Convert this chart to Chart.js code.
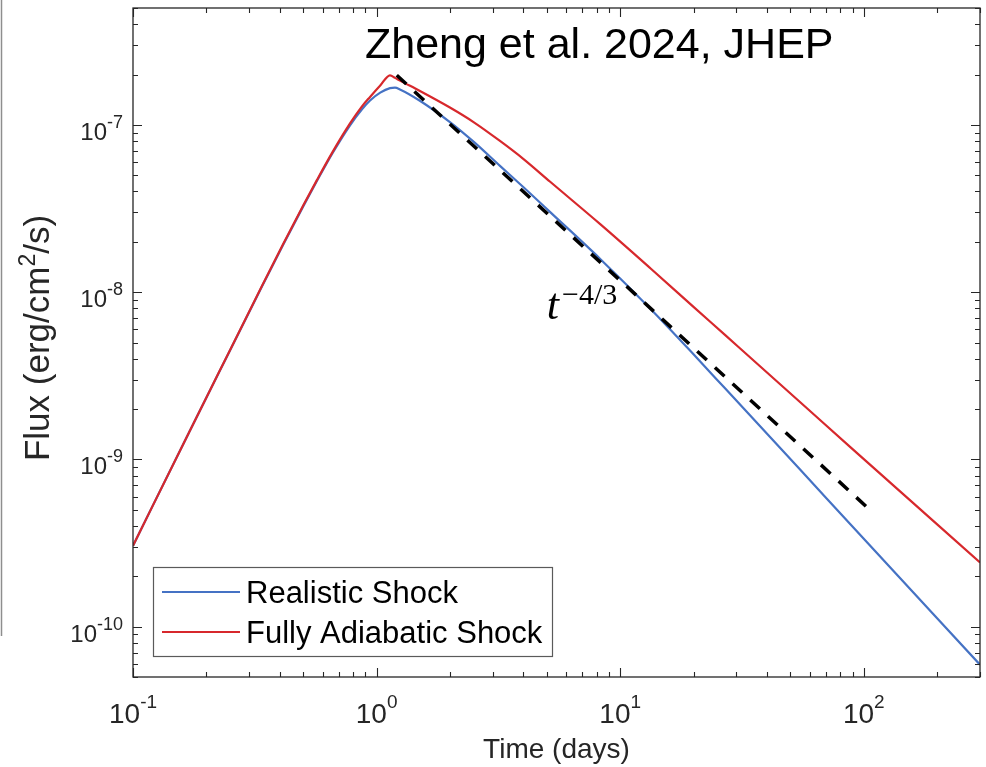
<!DOCTYPE html>
<html>
<head>
<meta charset="utf-8">
<script src="https://cdn.jsdelivr.net/npm/chart.js@4.4.1/dist/chart.umd.min.js"></script>
<style>
html,body{margin:0;padding:0;background:#ffffff;}
#wrap{width:986px;height:767px;position:relative;}
</style>
</head>
<body>
<div id="wrap"><canvas id="c" width="986" height="767"></canvas></div>
<script>
// ---- data ----
const timeDays = [0.1, 0.171, 0.224, 0.316, 0.414, 0.501, 0.568, 0.661, 0.778, 0.871, 0.94, 1.035, 1.135, 1.19, 1.247, 1.5, 2.0, 2.5, 3.21, 4.0, 5.16, 8.28, 13.3, 20, 27, 55, 88.3, 300];
const realisticShock = [3.05e-10, 1.48e-9, 3.25e-9, 8.85e-9, 1.93e-8, 3.28e-8, 4.60e-8, 6.82e-8, 9.95e-8, 1.24e-7, 1.40e-7, 1.56e-7, 1.66e-7, 1.67e-7, 1.63e-7, 1.40e-7, 1.04e-7, 7.94e-8, 5.69e-8, 4.25e-8, 3.01e-8, 1.58e-8, 7.96e-9, 4.25e-9, 2.65e-9, 8.63e-10, 4.08e-10, 5.92e-11];
const adiabaticShock = [3.05e-10, 1.48e-9, 3.26e-9, 8.91e-9, 1.95e-8, 3.32e-8, 4.66e-8, 6.92e-8, 1.02e-7, 1.29e-7, 1.47e-7, 1.72e-7, 1.98e-7, 1.91e-7, 1.84e-7, 1.60e-7, 1.27e-7, 1.04e-7, 8.02e-8, 6.27e-8, 4.57e-8, 2.55e-8, 1.39e-8, 8.17e-9, 5.53e-9, 2.19e-9, 1.18e-9, 2.42e-10];
const slopeTimes = [1.21, 107];
const slopeFlux = [1.98e-7, 4.93e-10];
const seriesLabels = ['Realistic Shock', 'Fully Adiabatic Shock'];
const xTickExponents = [-1, 0, 1, 2];
const yTickExponents = [-10, -9, -8, -7];
const annotationTime = 5.0;
const annotationFlux = 6.95e-9;
const chartTitle = 'Zheng et al. 2024, JHEP';
const xTitle = 'Time (days)';
const yTitleParts = ['Flux (erg/cm', '2', '/s)'];

const BLUE = '#4572c4';
const RED = '#d7282c';
const SANS = '"Liberation Sans", Arial, Helvetica, sans-serif';
const SERIF = '"Liberation Serif", "Times New Roman", serif';

function toPoints(xs, ys) { return xs.map((x, i) => ({ x: x, y: ys[i] })); }

function drawPow(ctx, base, exp, x, y, align, baseSize, supSize, rise) {
  ctx.font = baseSize + 'px ' + SANS;
  const bw = ctx.measureText(base).width;
  ctx.font = supSize + 'px ' + SANS;
  const sw = ctx.measureText(exp).width;
  const total = bw + sw;
  let left = x;
  if (align === 'right') left = x - total;
  else if (align === 'center') left = x - total / 2;
  ctx.textAlign = 'left';
  ctx.textBaseline = 'alphabetic';
  ctx.font = baseSize + 'px ' + SANS;
  ctx.fillText(base, left, y);
  ctx.font = supSize + 'px ' + SANS;
  ctx.fillText(exp, left + bw, y - rise);
}

const decorPlugin = {
  id: 'decor',
  afterDraw(chart) {
    const ctx = chart.ctx, ca = chart.chartArea;
    const xs = chart.scales.x, ys = chart.scales.y;
    ctx.save();

    // stray vertical line at the left edge of the screenshot
    ctx.strokeStyle = '#8e8e8e';
    ctx.lineWidth = 1.5;
    ctx.beginPath(); ctx.moveTo(1.5, 0); ctx.lineTo(1.5, 636); ctx.stroke();

    // axes box
    ctx.strokeStyle = '#262626';
    ctx.lineWidth = 1.3;
    ctx.strokeRect(ca.left, ca.top, ca.right - ca.left, ca.bottom - ca.top);

    // inward ticks on all four sides
    ctx.lineWidth = 1.1;
    ctx.beginPath();
    for (let d = -2; d <= 3; d++) {
      for (let m = 1; m <= 9; m++) {
        const v = m * Math.pow(10, d);
        if (v < xs.min * 0.999 || v > xs.max * 1.001) continue;
        const px = Math.round(xs.getPixelForValue(v)) + 0.5;
        const len = m === 1 ? 9 : 5;
        ctx.moveTo(px, ca.bottom); ctx.lineTo(px, ca.bottom - len);
        ctx.moveTo(px, ca.top); ctx.lineTo(px, ca.top + len);
      }
    }
    for (let d = -12; d <= -6; d++) {
      for (let m = 1; m <= 9; m++) {
        const v = m * Math.pow(10, d);
        if (v < ys.min * 0.999 || v > ys.max * 1.001) continue;
        const py = Math.round(ys.getPixelForValue(v)) + 0.5;
        const len = m === 1 ? 9 : 5;
        ctx.moveTo(ca.left, py); ctx.lineTo(ca.left + len, py);
        ctx.moveTo(ca.right, py); ctx.lineTo(ca.right - len, py);
      }
    }
    ctx.stroke();

    // tick labels
    ctx.fillStyle = '#262626';
    xTickExponents.forEach(e => {
      const px = xs.getPixelForValue(Math.pow(10, e));
      drawPow(ctx, '10', String(e), px, ca.bottom + 46, 'center', 28, 19, 15);
    });
    yTickExponents.forEach(e => {
      const py = ys.getPixelForValue(Math.pow(10, e));
      drawPow(ctx, '10', String(e), ca.left - 10, py + 15, 'right', 24, 18, 12);
    });

    // axis titles
    ctx.font = '28px ' + SANS;
    ctx.textAlign = 'center';
    ctx.textBaseline = 'alphabetic';
    ctx.fillText(xTitle, (ca.left + ca.right) / 2, 758);

    ctx.save();
    ctx.translate(49, 338);
    ctx.rotate(-Math.PI / 2);
    ctx.font = '35px ' + SANS;
    const w0 = ctx.measureText(yTitleParts[0]).width;
    const w2 = ctx.measureText(yTitleParts[2]).width;
    ctx.font = '23px ' + SANS;
    const w1 = ctx.measureText(yTitleParts[1]).width;
    let lx = -(w0 + w1 + w2) / 2;
    ctx.textAlign = 'left';
    ctx.font = '35px ' + SANS;
    ctx.fillText(yTitleParts[0], lx, 0);
    ctx.font = '23px ' + SANS;
    ctx.fillText(yTitleParts[1], lx + w0, -14);
    ctx.font = '35px ' + SANS;
    ctx.fillText(yTitleParts[2], lx + w0 + w1, 0);
    ctx.restore();

    // title inside the axes
    ctx.fillStyle = '#000000';
    ctx.font = '43px ' + SANS;
    ctx.textAlign = 'left';
    ctx.fillText(chartTitle, ca.left + 232, ca.top + 50);

    // t^{-4/3} annotation
    const ax = xs.getPixelForValue(annotationTime);
    const ay = ys.getPixelForValue(annotationFlux);
    ctx.font = 'italic 44px ' + SERIF;
    ctx.fillText('t', ax, ay);
    const tw = ctx.measureText('t').width;
    ctx.font = '30px ' + SERIF;
    ctx.fillText('\u22124/3', ax + tw + 3, ay - 15);

    // legend box
    const lx0 = ca.left + 20, ly0 = ca.bottom - 110, lw = 399, lh = 89;
    ctx.fillStyle = '#ffffff';
    ctx.fillRect(lx0, ly0, lw, lh);
    ctx.strokeStyle = '#5a5a5a';
    ctx.lineWidth = 1.2;
    ctx.strokeRect(lx0 + 0.5, ly0 + 0.5, lw, lh);
    const ds = chart.data.datasets;
    [0, 1].forEach(i => {
      const rowY = ly0 + 25 + i * 40;
      ctx.strokeStyle = ds[i].borderColor;
      ctx.lineWidth = 2.2;
      ctx.beginPath(); ctx.moveTo(lx0 + 9, rowY); ctx.lineTo(lx0 + 87, rowY); ctx.stroke();
      ctx.fillStyle = '#000000';
      ctx.font = '31px ' + SANS;
      ctx.textAlign = 'left';
      ctx.fillText(ds[i].label, lx0 + 93, rowY + 11);
    });

    ctx.restore();
  }
};

new Chart(document.getElementById('c'), {
  type: 'line',
  data: {
    datasets: [
      { label: seriesLabels[0], data: toPoints(timeDays, realisticShock), borderColor: BLUE, borderWidth: 2.2, pointRadius: 0, cubicInterpolationMode: 'monotone', fill: false, order: 2 },
      { label: seriesLabels[1], data: toPoints(timeDays, adiabaticShock), borderColor: RED, borderWidth: 2.2, pointRadius: 0, cubicInterpolationMode: 'monotone', fill: false, order: 1 },
      { label: 't^-4/3', data: toPoints(slopeTimes, slopeFlux), borderColor: '#000000', borderWidth: 3.5, borderDash: [13, 11], pointRadius: 0, tension: 0, fill: false, order: 0 }
    ]
  },
  options: {
    responsive: false,
    animation: false,
    devicePixelRatio: 1,
    layout: { padding: { left: 133, top: 8, right: 6, bottom: 90 } },
    plugins: { legend: { display: false }, tooltip: { enabled: false }, title: { display: false } },
    scales: {
      x: {
        type: 'logarithmic', min: 0.1, max: 300,
        grid: { display: false, drawTicks: false }, border: { display: false },
        ticks: { display: false }
      },
      y: {
        type: 'logarithmic', min: 5e-11, max: 5e-7,
        grid: { display: false, drawTicks: false }, border: { display: false },
        ticks: { display: false }
      }
    }
  },
  plugins: [decorPlugin]
});
</script>
</body>
</html>
